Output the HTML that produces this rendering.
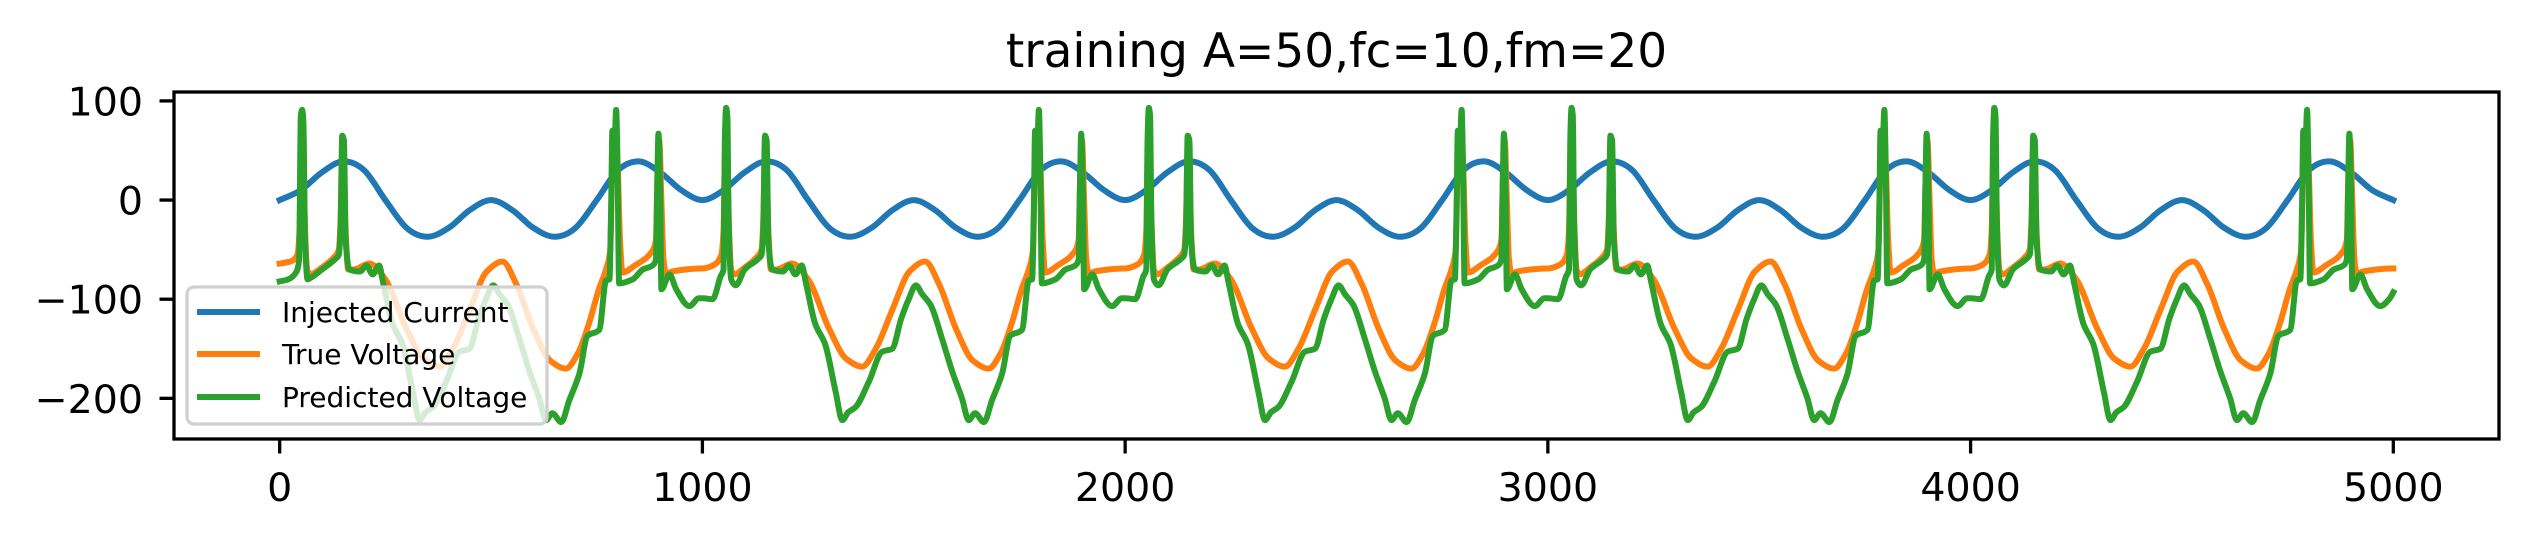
<!DOCTYPE html>
<html><head><meta charset="utf-8"><title>training A=50,fc=10,fm=20</title>
<style>html,body{margin:0;padding:0;background:#fff;}svg{display:block;font-family:"DejaVu Sans","Liberation Sans",sans-serif;}</style>
</head><body>
<svg id="chart" width="2528" height="540" viewBox="0 0 2528 540" xmlns="http://www.w3.org/2000/svg">
<rect x="0" y="0" width="2528" height="540" fill="#fff"/>
<text x="1336.5" y="67" text-anchor="middle" font-size="47" fill="#000">training A=50,fc=10,fm=20</text>
<defs><clipPath id="plotclip"><rect x="174" y="92" width="2325" height="347"/></clipPath></defs>
<g id="series" clip-path="url(#plotclip)"></g>
<g id="xticks"></g>
<g id="yticks"></g>
<rect x="174" y="92" width="2325" height="347" fill="none" stroke="#000" stroke-width="3.3"/>
<g>
<rect x="187" y="287" width="360" height="137" rx="7" fill="rgba(255,255,255,0.8)" stroke="#d0d0d0" stroke-width="3.3"/>
<g><line x1="197" y1="312" x2="260" y2="312" stroke="#1f77b4" stroke-width="6"/><text x="282" y="322" font-size="28">Injected Current</text></g>
<g><line x1="197" y1="354" x2="260" y2="354" stroke="#ff7f0e" stroke-width="6"/><text x="282" y="364" font-size="28">True Voltage</text></g>
<g><line x1="197" y1="397" x2="260" y2="397" stroke="#2ca02c" stroke-width="6"/><text x="282" y="407" font-size="28">Predicted Voltage</text></g>
</g>
</svg>
<script>
const xTickValues = [0, 1000, 2000, 3000, 4000, 5000];
const yTickValues = [100, 0, -100, -200];
const currentTimes = [0,50,100,150,200,250,300,350,400,450,500,550,600,650,700,750,800,850,900,950,1000,1050,1100,1150,1200,1250,1300,1350,1400,1450,1500,1550,1600,1650,1700,1750,1800,1850,1900,1950,2000,2050,2100,2150,2200,2250,2300,2350,2400,2450,2500,2550,2600,2650,2700,2750,2800,2850,2900,2950,3000,3050,3100,3150,3200,3250,3300,3350,3400,3450,3500,3550,3600,3650,3700,3750,3800,3850,3900,3950,4000,4050,4100,4150,4200,4250,4300,4350,4400,4450,4500,4550,4600,4650,4700,4750,4800,4850,4900,4950,5000];
const currentValues = [0,10,28,39,30,0,-28,-37,-28,-10,0,-10,-28,-37,-28,0,30,39,28,10,
0,10,28,39,30,0,-28,-37,-28,-10,0,-10,-28,-37,-28,0,30,39,28,10,
0,10,28,39,30,0,-28,-37,-28,-10,0,-10,-28,-37,-28,0,30,39,28,10,
0,10,28,39,30,0,-28,-37,-28,-10,0,-10,-28,-37,-28,0,30,39,28,10,
0,10,28,39,30,0,-28,-37,-28,-10,0,-10,-28,-37,-28,0,30,39,28,10,0];
const trueTimes = [0,25,42,47,50,53,56,60,65,72,100,130,140,144,148,152,156,162,175,212,250,300,340,378,410,450,490,527,560,600,640,677,705,732,755,772,782,786,790,795,800,805,811,840,882,890,894,898,903,908,914,929,960,992,
1000,1025,1045,1050,1053,1056,1059,1063,1068,1075,1100,1130,1140,1144,1148,1152,1156,1162,1175,1212,1250,1300,1340,1378,1410,1450,1490,1527,1560,1600,1640,1677,1705,1732,1755,1772,1782,1786,1790,1795,1800,1805,1811,1840,1882,1890,1894,1898,1903,1908,1914,1929,1960,1992,
2000,2025,2045,2050,2053,2056,2059,2063,2068,2075,2100,2130,2140,2144,2148,2152,2156,2162,2175,2212,2250,2300,2340,2378,2410,2450,2490,2527,2560,2600,2640,2677,2705,2732,2755,2772,2782,2786,2790,2795,2800,2805,2811,2840,2882,2890,2894,2898,2903,2908,2914,2929,2960,2992,
3000,3025,3045,3050,3053,3056,3059,3063,3068,3075,3100,3130,3140,3144,3148,3152,3156,3162,3175,3212,3250,3300,3340,3378,3410,3450,3490,3527,3560,3600,3640,3677,3705,3732,3755,3772,3782,3786,3790,3795,3800,3805,3811,3840,3882,3890,3894,3898,3903,3908,3914,3929,3960,3992,
4000,4025,4045,4050,4053,4056,4059,4063,4068,4075,4100,4130,4140,4144,4148,4152,4156,4162,4175,4212,4250,4300,4340,4378,4410,4450,4490,4527,4560,4600,4640,4677,4705,4732,4755,4772,4782,4786,4790,4795,4800,4805,4811,4840,4882,4890,4894,4898,4903,4908,4914,4929,4960,4992,5000];
const trueValues = [-64,-62,-55,-30,40,70,40,-30,-70,-75,-68,-57,-50,-20,50,30,-30,-70,-70,-64,-80,-130,-160,-168,-150,-110,-72,-62,-85,-130,-162,-170,-155,-124,-90,-70,-50,20,60,70,30,-40,-73,-66,-51,-40,30,60,0,-60,-74,-72,-70,-69,
-69,-66,-55,-30,40,70,40,-30,-70,-75,-68,-57,-50,-20,50,30,-30,-70,-70,-64,-80,-130,-160,-168,-150,-110,-72,-62,-85,-130,-162,-170,-155,-124,-90,-70,-50,20,60,70,30,-40,-73,-66,-51,-40,30,60,0,-60,-74,-72,-70,-69,
-69,-66,-55,-30,40,70,40,-30,-70,-75,-68,-57,-50,-20,50,30,-30,-70,-70,-64,-80,-130,-160,-168,-150,-110,-72,-62,-85,-130,-162,-170,-155,-124,-90,-70,-50,20,60,70,30,-40,-73,-66,-51,-40,30,60,0,-60,-74,-72,-70,-69,
-69,-66,-55,-30,40,70,40,-30,-70,-75,-68,-57,-50,-20,50,30,-30,-70,-70,-64,-80,-130,-160,-168,-150,-110,-72,-62,-85,-130,-162,-170,-155,-124,-90,-70,-50,20,60,70,30,-40,-73,-66,-51,-40,30,60,0,-60,-74,-72,-70,-69,
-69,-66,-55,-30,40,70,40,-30,-70,-75,-68,-57,-50,-20,50,30,-30,-70,-70,-64,-80,-130,-160,-168,-150,-110,-72,-62,-85,-130,-162,-170,-155,-124,-90,-70,-50,20,60,70,30,-40,-73,-66,-51,-40,30,60,0,-60,-74,-72,-70,-69,-69];
const predTimes = [0,20,40,46,50,53,56,60,66,75,100,130,140,144,148,152,156,165,190,205,220,235,245,267,290,315,331,345,362,394,425,449,470,488,505,520,540,567,591,614,630,645,666,685,709,728,756,772,780,784,787,790,793,796,799,803,835,859,882,890,893,896,900,903,922,938,969,992,
1000,1024,1043,1050,1053,1056,1059,1062,1068,1079,1100,1130,1140,1144,1148,1152,1156,1165,1190,1205,1220,1235,1245,1267,1290,1315,1331,1345,1362,1394,1425,1449,1470,1488,1505,1520,1540,1567,1591,1614,1630,1645,1666,1685,1709,1728,1756,1772,1780,1784,1787,1790,1793,1796,1799,1803,1835,1859,1882,1890,1893,1896,1900,1903,1922,1938,1969,1992,
2000,2024,2043,2050,2053,2056,2059,2062,2068,2079,2100,2130,2140,2144,2148,2152,2156,2165,2190,2205,2220,2235,2245,2267,2290,2315,2331,2345,2362,2394,2425,2449,2470,2488,2505,2520,2540,2567,2591,2614,2630,2645,2666,2685,2709,2728,2756,2772,2780,2784,2787,2790,2793,2796,2799,2803,2835,2859,2882,2890,2893,2896,2900,2903,2922,2938,2969,2992,
3000,3024,3043,3050,3053,3056,3059,3062,3068,3079,3100,3130,3140,3144,3148,3152,3156,3165,3190,3205,3220,3235,3245,3267,3290,3315,3331,3345,3362,3394,3425,3449,3470,3488,3505,3520,3540,3567,3591,3614,3630,3645,3666,3685,3709,3728,3756,3772,3780,3784,3787,3790,3793,3796,3799,3803,3835,3859,3882,3890,3893,3896,3900,3903,3922,3938,3969,3992,
4000,4024,4043,4050,4053,4056,4059,4062,4068,4079,4100,4130,4140,4144,4148,4152,4156,4165,4190,4205,4220,4235,4245,4267,4290,4315,4331,4345,4362,4394,4425,4449,4470,4488,4505,4520,4540,4567,4591,4614,4630,4645,4666,4685,4709,4728,4756,4772,4780,4784,4787,4790,4793,4796,4799,4803,4835,4859,4882,4890,4893,4896,4900,4903,4922,4938,4969,4992,5000];
const predValues = [-82,-80,-72,-60,85,91,80,-40,-80,-78,-70,-60,-55,-30,65,60,-40,-70,-72,-66,-75,-66,-84,-125,-145,-193,-222,-214,-209,-183,-153,-150,-120,-100,-86,-95,-106,-140,-173,-200,-222,-215,-224,-202,-175,-137,-131,-81,-80,-10,70,20,60,91,40,-84,-80,-70,-66,-60,10,67,10,-90,-75,-90,-107,-99,
-99,-100,-77,-70,60,93,85,-20,-80,-86,-70,-60,-55,-30,65,60,-40,-70,-72,-66,-75,-66,-84,-125,-145,-193,-222,-214,-209,-183,-153,-150,-120,-100,-86,-95,-106,-140,-173,-200,-222,-215,-224,-202,-175,-137,-131,-81,-80,-10,70,20,60,91,40,-84,-80,-70,-66,-60,10,67,10,-90,-75,-90,-107,-99,
-99,-100,-77,-70,60,93,85,-20,-80,-86,-70,-60,-55,-30,65,60,-40,-70,-72,-66,-75,-66,-84,-125,-145,-193,-222,-214,-209,-183,-153,-150,-120,-100,-86,-95,-106,-140,-173,-200,-222,-215,-224,-202,-175,-137,-131,-81,-80,-10,70,20,60,91,40,-84,-80,-70,-66,-60,10,67,10,-90,-75,-90,-107,-99,
-99,-100,-77,-70,60,93,85,-20,-80,-86,-70,-60,-55,-30,65,60,-40,-70,-72,-66,-75,-66,-84,-125,-145,-193,-222,-214,-209,-183,-153,-150,-120,-100,-86,-95,-106,-140,-173,-200,-222,-215,-224,-202,-175,-137,-131,-81,-80,-10,70,20,60,91,40,-84,-80,-70,-66,-60,10,67,10,-90,-75,-90,-107,-99,
-99,-100,-77,-70,60,93,85,-20,-80,-86,-70,-60,-55,-30,65,60,-40,-70,-72,-66,-75,-66,-84,-125,-145,-193,-222,-214,-209,-183,-153,-150,-120,-100,-86,-95,-106,-140,-173,-200,-222,-215,-224,-202,-175,-137,-131,-81,-80,-10,70,20,60,91,40,-84,-80,-70,-66,-60,10,67,10,-90,-75,-90,-107,-99,-93];

const NS = 'http://www.w3.org/2000/svg';
const X_LEFT = 174, X_RIGHT = 2499, Y_TOP = 92, Y_BOTTOM = 439;
const X_MIN = -250, X_MAX = 5250, Y_MIN = -241, Y_MAX = 109;
function xScale(v){ return X_LEFT + (v - X_MIN) / (X_MAX - X_MIN) * (X_RIGHT - X_LEFT); }
function yScale(v){ return Y_BOTTOM - (v - Y_MIN) / (Y_MAX - Y_MIN) * (Y_BOTTOM - Y_TOP); }

function monotonePath(xs, ys){
  const n = xs.length;
  const px = xs.map(xScale), py = ys.map(yScale);
  const dx = [], s = [];
  for (let i = 0; i < n - 1; i++){ dx.push(px[i+1]-px[i]); s.push((py[i+1]-py[i])/(px[i+1]-px[i])); }
  const m = new Array(n);
  m[0] = s[0]; m[n-1] = s[n-2];
  for (let i = 1; i < n - 1; i++){
    if (s[i-1]*s[i] <= 0) m[i] = 0;
    else m[i] = 3*(dx[i-1]+dx[i]) / ((2*dx[i]+dx[i-1])/s[i-1] + (dx[i]+2*dx[i-1])/s[i]);
  }
  let d = 'M' + px[0].toFixed(2) + ',' + py[0].toFixed(2);
  for (let i = 0; i < n - 1; i++){
    const h = dx[i]/3;
    d += 'C' + (px[i]+h).toFixed(2) + ',' + (py[i]+m[i]*h).toFixed(2) + ' ' + (px[i+1]-h).toFixed(2) + ',' + (py[i+1]-m[i+1]*h).toFixed(2) + ' ' + px[i+1].toFixed(2) + ',' + py[i+1].toFixed(2);
  }
  return d;
}
function catmullPath(xs, ys){
  const px = xs.map(xScale), py = ys.map(yScale), n = px.length;
  let d = 'M' + px[0].toFixed(2) + ',' + py[0].toFixed(2);
  for (let i = 0; i < n - 1; i++){
    const i0 = Math.max(0, i-1), i3 = Math.min(n-1, i+2);
    const c1x = px[i] + (px[i+1]-px[i0])/6, c1y = py[i] + (py[i+1]-py[i0])/6;
    const c2x = px[i+1] - (px[i3]-px[i])/6, c2y = py[i+1] - (py[i3]-py[i])/6;
    d += 'C' + c1x.toFixed(2) + ',' + c1y.toFixed(2) + ' ' + c2x.toFixed(2) + ',' + c2y.toFixed(2) + ' ' + px[i+1].toFixed(2) + ',' + py[i+1].toFixed(2);
  }
  return d;
}

const seriesG = document.getElementById('series');
function addLine(d, color, name){
  const p = document.createElementNS(NS, 'path');
  p.setAttribute('d', d);
  p.setAttribute('fill', 'none');
  p.setAttribute('stroke', color);
  p.setAttribute('stroke-width', '6');
  p.setAttribute('stroke-linejoin', 'round');
  p.setAttribute('stroke-linecap', 'square');
  
  
  seriesG.appendChild(p);
}
addLine(catmullPath(currentTimes, currentValues), '#1f77b4', 'injected-current-line');
addLine(monotonePath(trueTimes, trueValues), '#ff7f0e', 'true-voltage-line');
addLine(monotonePath(predTimes, predValues), '#2ca02c', 'predicted-voltage-line');

const xg = document.getElementById('xticks');
xTickValues.forEach(v => {
  const x = xScale(v);
  const t = document.createElementNS(NS, 'line');
  t.setAttribute('x1', x); t.setAttribute('x2', x);
  t.setAttribute('y1', Y_BOTTOM); t.setAttribute('y2', Y_BOTTOM + 14.5);
  t.setAttribute('stroke', '#000'); t.setAttribute('stroke-width', '3.3');
  
  
  xg.appendChild(t);
  const l = document.createElementNS(NS, 'text');
  l.setAttribute('x', x); l.setAttribute('y', 501);
  l.setAttribute('text-anchor', 'middle'); l.setAttribute('font-size', '39.5');
  l.textContent = String(v);
  
  
  xg.appendChild(l);
});
const yg = document.getElementById('yticks');
yTickValues.forEach(v => {
  const y = yScale(v);
  const t = document.createElementNS(NS, 'line');
  t.setAttribute('x1', X_LEFT - 14.5); t.setAttribute('x2', X_LEFT);
  t.setAttribute('y1', y); t.setAttribute('y2', y);
  t.setAttribute('stroke', '#000'); t.setAttribute('stroke-width', '3.3');
  
  
  yg.appendChild(t);
  const l = document.createElementNS(NS, 'text');
  l.setAttribute('x', 143); l.setAttribute('y', y + 14.5);
  l.setAttribute('text-anchor', 'end'); l.setAttribute('font-size', '39.5');
  l.textContent = v < 0 ? '\u2212' + Math.abs(v) : String(v);
  
  
  yg.appendChild(l);
});
</script>
</body></html>
